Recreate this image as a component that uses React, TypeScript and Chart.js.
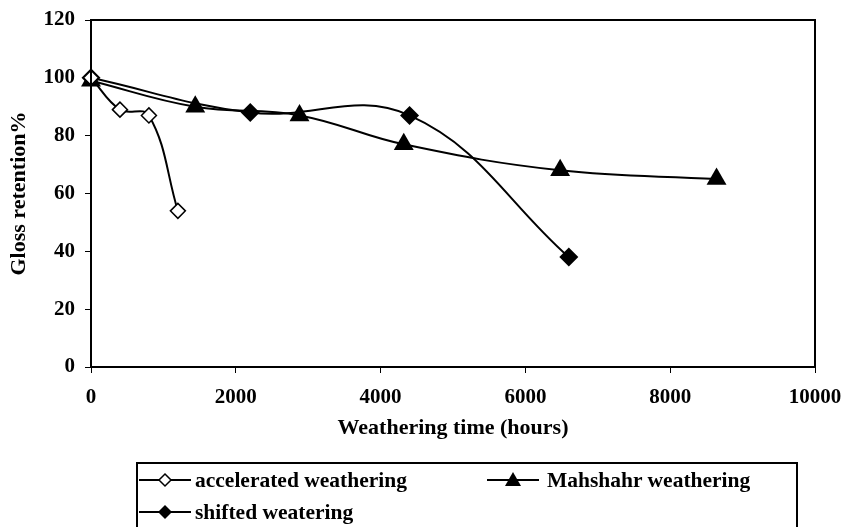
import React, { useEffect, useRef } from "react";
import { Chart, registerables } from "chart.js";

Chart.register(...registerables);

const acceleratedX = [0, 400, 800, 1200];
const acceleratedY = [100, 89, 87, 54];
const mahshahrX = [0, 1440, 2880, 4320, 6480, 8640];
const mahshahrY = [99, 90, 87, 77, 68, 65];
const shiftedX = [0, 2200, 4400, 6600];
const shiftedY = [100, 88, 87, 38];

const seriesNames = ["accelerated weathering", "Mahshahr weathering", "shifted weatering"];
const xTitle = "Weathering time (hours)";
const yTitle = "Gloss retention%";

const FONT = "'Liberation Serif', 'Times New Roman', serif";

const toPts = (xs: number[], ys: number[]) => xs.map((x, i) => ({ x, y: ys[i] }));

const borderPlugin = {
  id: "plotBorder",
  afterDatasetsDraw(chart: any) {
    const { ctx, chartArea } = chart;
    ctx.save();
    ctx.strokeStyle = "#000";
    ctx.lineWidth = 2;
    ctx.strokeRect(chartArea.left, chartArea.top, chartArea.right - chartArea.left, chartArea.bottom - chartArea.top);
    ctx.restore();
  },
};

function Symbol({ kind }: { kind: string }) {
  return (
    <svg width="52" height="20" style={{ display: "block" }}>
      <line x1="0" y1="10" x2="52" y2="10" stroke="#000" strokeWidth="2" />
      {kind === "open" && <polygon points="26,4 32,10 26,16 20,10" fill="#fff" stroke="#000" strokeWidth="1.5" />}
      {kind === "filled" && <polygon points="26,3 33,10 26,17 19,10" fill="#000" />}
      {kind === "tri" && <polygon points="26,2 34,16 18,16" fill="#000" />}
    </svg>
  );
}

export default function App() {
  const ref = useRef<HTMLCanvasElement | null>(null);
  useEffect(() => {
    const tickFont = { family: FONT, size: 21, weight: "bold" as const };
    const titleFont = { family: FONT, size: 22, weight: "bold" as const };
    const chart = new Chart(ref.current as HTMLCanvasElement, {
      type: "scatter",
      data: {
        datasets: [
          {
            label: seriesNames[0],
            data: toPts(acceleratedX, acceleratedY),
            showLine: true,
            tension: 0.4,
            borderColor: "#000",
            borderWidth: 2,
            pointStyle: "rectRot",
            pointRadius: 7.5,
            pointBackgroundColor: "#fff",
            pointBorderColor: "#000",
            pointBorderWidth: 1.5,
            clip: false,
          },
          {
            label: seriesNames[1],
            data: toPts(mahshahrX, mahshahrY),
            showLine: true,
            tension: 0.4,
            borderColor: "#000",
            borderWidth: 2,
            pointStyle: "triangle",
            pointRadius: 11.5,
            pointBackgroundColor: "#000",
            pointBorderColor: "#000",
            pointBorderWidth: 0,
            clip: false,
          },
          {
            label: seriesNames[2],
            data: toPts(shiftedX, shiftedY),
            showLine: true,
            tension: 0.4,
            borderColor: "#000",
            borderWidth: 2,
            pointStyle: "rectRot",
            pointRadius: 9.5,
            pointBackgroundColor: "#000",
            pointBorderColor: "#000",
            pointBorderWidth: 0,
            clip: false,
          },
        ],
      },
      options: {
        responsive: false,
        animation: false,
        layout: { padding: { top: 20, right: 26, left: 0, bottom: 0 } },
        plugins: { legend: { display: false }, tooltip: { enabled: false } },
        scales: {
          x: {
            type: "linear",
            min: 0,
            max: 10000,
            ticks: {
              stepSize: 2000,
              font: tickFont,
              color: "#000",
              padding: 12,
              maxRotation: 0,
              callback: (v: any) => String(v),
            },
            grid: { drawOnChartArea: false, drawTicks: true, tickLength: 6, color: "#000", lineWidth: 1 },
            border: { display: false },
            title: { display: true, text: xTitle, font: titleFont, color: "#000", padding: { top: 0, bottom: 85 } },
            afterFit: (s: any) => {
              s.height = 160;
              s.paddingLeft = 0;
              s.paddingRight = 0;
            },
          },
          y: {
            min: 0,
            max: 120,
            ticks: { stepSize: 20, font: tickFont, color: "#000", padding: 10, callback: (v: any) => String(v) },
            grid: { drawOnChartArea: false, drawTicks: true, tickLength: 6, color: "#000", lineWidth: 1 },
            border: { display: false },
            title: { display: true, text: yTitle, font: titleFont, color: "#000", padding: { top: 6, bottom: 0 } },
            afterFit: (s: any) => {
              s.width = 91;
              s.paddingTop = 0;
              s.paddingBottom = 0;
            },
          },
        },
      },
      plugins: [borderPlugin],
    } as any);
    return () => chart.destroy();
  }, []);

  const textStyle: React.CSSProperties = {
    fontFamily: FONT,
    fontWeight: "bold",
    fontSize: 21.5,
    color: "#000",
    whiteSpace: "nowrap",
  };

  return (
    <div style={{ position: "fixed", left: 0, top: 0, width: 841, height: 527, background: "#fff", overflow: "hidden" }}>
      <canvas ref={ref} width={841} height={527} style={{ position: "absolute", left: 0, top: 0, width: 841, height: 527 }} />
      <div
        style={{
          position: "absolute",
          left: 136,
          top: 462,
          width: 662,
          height: 90,
          border: "2px solid #000",
          borderBottom: "none",
          boxSizing: "border-box",
        }}
      />
      <div style={{ position: "absolute", left: 139, top: 469, display: "flex", alignItems: "center", height: 22 }}>
        <Symbol kind="open" />
        <span style={{ ...textStyle, marginLeft: 4 }}>{seriesNames[0]}</span>
      </div>
      <div style={{ position: "absolute", left: 487, top: 469, display: "flex", alignItems: "center", height: 22 }}>
        <Symbol kind="tri" />
        <span style={{ ...textStyle, marginLeft: 8 }}>{seriesNames[1]}</span>
      </div>
      <div style={{ position: "absolute", left: 139, top: 501, display: "flex", alignItems: "center", height: 22 }}>
        <Symbol kind="filled" />
        <span style={{ ...textStyle, marginLeft: 4 }}>{seriesNames[2]}</span>
      </div>
    </div>
  );
}
